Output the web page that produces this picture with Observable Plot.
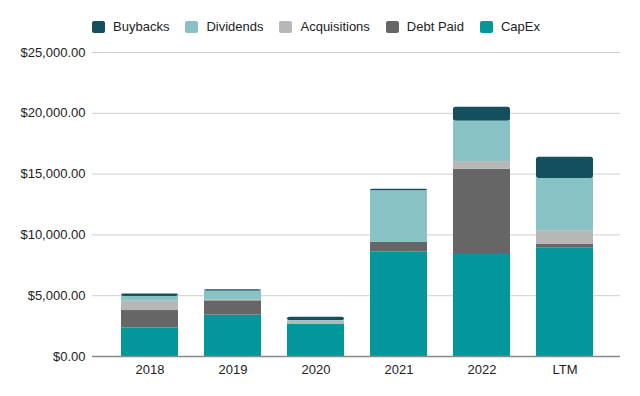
<!DOCTYPE html>
<html>
<head>
<meta charset="utf-8">
<script src="https://cdn.jsdelivr.net/npm/d3@7"></script>
<script src="https://cdn.jsdelivr.net/npm/@observablehq/plot@0.6"></script>
<style>
  html, body { margin: 0; padding: 0; background: #fff; }
  body { width: 640px; height: 396px; position: relative; overflow: hidden; font-family: "Liberation Sans", Arial, sans-serif; }
  #legend { position: absolute; top: 19px; left: 0; width: 640px; display: flex; justify-content: center; padding-right: 8px; box-sizing: border-box; font-size: 13px; color: #222; z-index: 2; }
  .item { display: flex; align-items: center; margin: 0 8px; }
  .sw { width: 13px; height: 12px; border-radius: 2px; margin-right: 8px; }
  #chart { position: absolute; top: 0; left: 0; z-index: 1; }
</style>
</head>
<body>
<div id="legend"></div>
<div id="chart"></div>
<script>
const years = ["2018", "2019", "2020", "2021", "2022", "LTM"];
const series = ["CapEx", "Debt Paid", "Acquisitions", "Dividends", "Buybacks"];
const legendOrder = ["Buybacks", "Dividends", "Acquisitions", "Debt Paid", "CapEx"];
const colors = ["#03979b", "#666666", "#b7b7b7", "#88c2c4", "#134f5c"];
const capex = [2350, 3400, 2630, 8580, 8470, 8940];
const debtPaid = [1430, 1180, 0, 800, 6930, 270];
const acquisitions = [770, 80, 250, 0, 630, 1130];
const dividends = [390, 700, 50, 4220, 3310, 4300];
const buybacks = [190, 120, 300, 160, 1150, 1750];
const yTicks = [0, 5000, 10000, 15000, 20000, 25000];

const valuesBySeries = [capex, debtPaid, acquisitions, dividends, buybacks];
const data = [];
years.forEach((yr, i) => {
  series.forEach((s, j) => data.push({year: yr, series: s, value: valuesBySeries[j][i]}));
});
// top segment (buybacks) drawn separately with rounded corners, on top of the other four
const topSeg = years.map((yr, i) => {
  const base = capex[i] + debtPaid[i] + acquisitions[i] + dividends[i];
  return {year: yr, series: "Buybacks", y1: base, y2: base + buybacks[i]};
});

const fmt = d => "$" + d3.format(",.2f")(d);

const chart = Plot.plot({
  width: 640,
  height: 396,
  marginTop: 52,
  marginBottom: 40,
  marginLeft: 92,
  marginRight: 20,
  style: {fontFamily: "Liberation Sans, Arial, sans-serif", fontSize: "13px", color: "#222", background: "transparent"},
  x: {domain: years, range: [106.8, 606.8], paddingInner: 0.316, paddingOuter: 0.158, label: null},
  y: {domain: [0, 25000], label: null},
  color: {domain: series, range: colors},
  marks: [
    Plot.ruleY(yTicks.filter(d => d > 0), {stroke: "#d0d0d0", strokeWidth: 1}),
    Plot.barY(topSeg, {x: "year", y1: "y1", y2: "y2", fill: "series", rx: 2.5}),
    Plot.barY(data.filter(d => d.series !== "Buybacks"), Plot.stackY({x: "year", y: "value", fill: "series", order: series})),
    Plot.ruleY([0], {stroke: "#8a8a8a", strokeWidth: 1.5}),
    Plot.axisY(yTicks, {tickSize: 0, tickPadding: 7, tickFormat: fmt, fill: "#222", label: null}),
    Plot.axisX({tickSize: 0, tickPadding: 8, fill: "#222", label: null})
  ]
});
document.getElementById("chart").appendChild(chart);

const legend = document.getElementById("legend");
legendOrder.forEach(s => {
  const it = document.createElement("div");
  it.className = "item";
  const sw = document.createElement("div");
  sw.className = "sw";
  sw.style.background = colors[series.indexOf(s)];
  const t = document.createElement("span");
  t.textContent = s;
  it.appendChild(sw);
  it.appendChild(t);
  legend.appendChild(it);
});
</script>
</body>
</html>
